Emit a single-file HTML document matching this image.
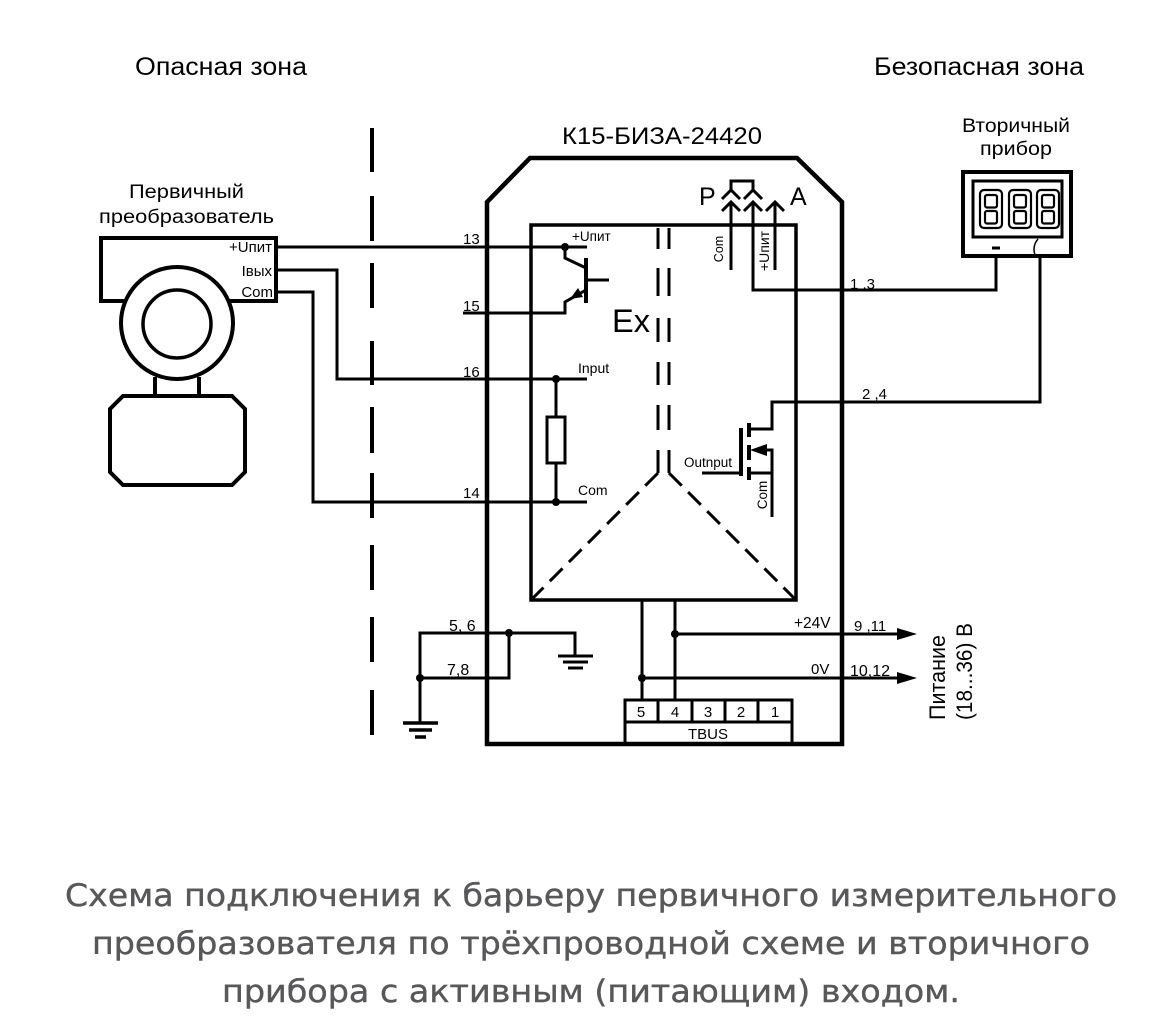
<!DOCTYPE html>
<html><head><meta charset="utf-8"><style>
html,body{margin:0;padding:0;background:#fff;}
svg{display:block;}
text{font-family:"Liberation Sans",Arial,sans-serif;fill:#000;}
text.cap{font-family:"DejaVu Sans","Liberation Sans",sans-serif;fill:#58585a;stroke:#58585a;stroke-width:0.4;}
</style></head><body>
<svg width="1156" height="1033" viewBox="0 0 1156 1033" xmlns="http://www.w3.org/2000/svg">
<rect width="1156" height="1033" fill="#fff"/>

<!-- headings -->
<text x="135" y="75" font-size="25" textLength="172" lengthAdjust="spacingAndGlyphs">Опасная зона</text>
<text x="874" y="75" font-size="25" textLength="210" lengthAdjust="spacingAndGlyphs">Безопасная зона</text>
<text x="562" y="144" font-size="24" textLength="200" lengthAdjust="spacingAndGlyphs">К15-БИЗА-24420</text>
<text x="129" y="198" font-size="19" textLength="115" lengthAdjust="spacingAndGlyphs">Первичный</text>
<text x="99" y="223" font-size="19" textLength="175" lengthAdjust="spacingAndGlyphs">преобразователь</text>
<text x="962" y="132" font-size="19" textLength="108" lengthAdjust="spacingAndGlyphs">Вторичный</text>
<text x="980" y="155" font-size="19" textLength="72" lengthAdjust="spacingAndGlyphs">прибор</text>

<g stroke="#000" fill="none" stroke-width="3" stroke-linecap="butt">
  <!-- zone boundary -->
  <path stroke-width="4" d="M372,128V172 M372,196V241 M372,263V308 M372,341V385 M372,407V453 M372,473V518 M372,545V590 M372,617V662 M372,690V735"/>

  <!-- outer housing -->
  <path d="M487,744 V202 L530,158 H797 L842,202 V744 Z" stroke-width="4.5" stroke-linejoin="miter"/>
  <!-- inner rect -->
  <rect x="531" y="225" width="265" height="375" stroke-width="3.5"/>

  <!-- barrier double dashed -->
  <path d="M658,228V249 M658,268V296 M658,318V342 M658,362V385 M658,405V430 M658,450V473
           M669,228V249 M669,268V296 M669,318V342 M669,362V385 M669,405V430 M669,450V473"/>
  <path d="M658,473 L531,600" stroke-dasharray="18 9"/>
  <path d="M669,473 L796,600" stroke-dasharray="18 9"/>

  <!-- transducer -->
  <rect x="101" y="238" width="175" height="63" stroke-width="4"/>
  <path d="M155,377V396 M199,377V396" stroke-width="4"/>
  <path d="M123,396 H232 L245,409 V472 L232,485 H123 L110,472 V409 Z" stroke-width="4" fill="#fff"/>
  <circle cx="177" cy="323" r="56" stroke-width="4" fill="#fff"/>
  <circle cx="177" cy="324" r="34" stroke-width="3.5"/>

  <!-- wires from transducer -->
  <path d="M278,247 H587"/>
  <path d="M278,270 H337 V379 H587"/>
  <path d="M278,292 H313 V502 H587"/>

  <!-- transistor -->
  <path d="M463,313 H565 V302 L586,290"/>
  <path d="M565,247 V258 L586,268"/>
  <path d="M586,258 V303" stroke-width="4"/>
  <path d="M586,280 H609"/>

  <!-- resistor -->
  <path d="M556,379 V417 M556,463 V502"/>
  <rect x="547" y="417" width="18" height="46"/>

  <!-- top connectors -->
  <path d="M731,190 V181 H753 V190"/>
  <path d="M722,199 L731,190 L740,199 M722,211 L731,202 L740,211 M731,202 V270"/>
  <path d="M744,199 L753,190 L762,199 M744,211 L753,202 L762,211 M753,202 V290 H996 V258"/>
  <path d="M766,211 L775,202 L784,211 M775,202 V270"/>

  <!-- output to device -->
  <path d="M1040,258 V402 H772 V429 H749"/>

  <!-- MOSFET -->
  <path d="M741,428 V476" stroke-width="4"/>
  <path d="M702,473 H741"/>
  <path d="M749,423V437 M749,445V460 M749,467V480" stroke-width="4"/>
  <path d="M762,450 H772 V517 M749,473 H772"/>

  <!-- bottom bus -->
  <path d="M642,600 V700 M675,600 V700"/>
  <path d="M675,634 H900 M642,678 H900"/>

  <!-- TBUS -->
  <rect x="625" y="700" width="167" height="44"/>
  <path d="M625,722 H792 M658,700V722 M692,700V722 M725,700V722 M758,700V722"/>

  <!-- grounding -->
  <path d="M575,656 V633 H420 V723"/>
  <path d="M509,633 V678 H420"/>
  <path d="M558,656 H593 M563,662 H588 M568,668 H583" stroke-width="3"/>
  <path d="M403,723 H438 M409,730 H432 M415,737 H426" stroke-width="3.5"/>

  <!-- secondary device -->
  <rect x="963" y="172" width="108" height="84" stroke-width="4"/>
  <rect x="973" y="181" width="89" height="56" stroke-width="3"/>
  <g stroke-width="2.2">
    <rect x="980" y="190" width="22" height="38" rx="4"/>
    <rect x="985" y="195" width="12" height="12.5" rx="2"/>
    <rect x="985" y="211" width="12" height="12.5" rx="2"/>
    <rect x="1009" y="190" width="22" height="38" rx="4"/>
    <rect x="1014" y="195" width="12" height="12.5" rx="2"/>
    <rect x="1014" y="211" width="12" height="12.5" rx="2"/>
    <rect x="1037" y="190" width="22" height="38" rx="4"/>
    <rect x="1042" y="195" width="12" height="12.5" rx="2"/>
    <rect x="1042" y="211" width="12" height="12.5" rx="2"/>
  </g>
  <path d="M992,248 H1000" stroke-width="3"/>
  <path d="M1038,239 Q1032,246 1035,255" stroke-width="1.5"/>
</g>

<!-- dots & arrowheads -->
<g fill="#000">
  <circle cx="565" cy="247" r="4"/>
  <circle cx="556" cy="379" r="4"/>
  <circle cx="556" cy="502" r="4"/>
  <circle cx="675" cy="634" r="4"/>
  <circle cx="642" cy="678" r="4"/>
  <circle cx="509" cy="633" r="4"/>
  <circle cx="420" cy="678" r="4"/>
  <polygon points="570,299 583,297 578,288"/>
  <polygon points="750,450 767,444 767,456"/>
  <polygon points="917,634 897,628 897,640"/>
  <polygon points="917,678 897,672 897,684"/>
</g>

<!-- labels -->
<g font-size="14">
  <text x="272" y="252" text-anchor="end" font-size="15">+Uпит</text>
  <text x="272" y="276" text-anchor="end" font-size="15">Iвых</text>
  <text x="273" y="297" text-anchor="end" font-size="15">Com</text>
  <text x="572" y="241" font-size="13.5">+Uпит</text>
  <text x="578" y="373">Input</text>
  <text x="578" y="495">Com</text>
  <text x="684" y="467" font-size="13.5">Outnput</text>
  <text transform="translate(723,249) rotate(-90)" text-anchor="middle" font-size="12.5">Com</text>
  <text transform="translate(769,251) rotate(-90)" text-anchor="middle" font-size="14">+Uпит</text>
  <text transform="translate(767,495) rotate(-90)" text-anchor="middle" font-size="13.5">Com</text>
  <text x="850" y="289" font-size="15">1 ,3</text>
  <text x="862" y="399" font-size="15">2 ,4</text>
  <text x="794" y="628" font-size="15.5">+24V</text>
  <text x="854" y="631" font-size="15">9 ,11</text>
  <text x="811" y="674" font-size="15">0V</text>
  <text x="850" y="676" font-size="16">10,12</text>
</g>
<g font-size="15">
  <text x="463" y="244">13</text>
  <text x="463" y="311">15</text>
  <text x="463" y="377">16</text>
  <text x="463" y="498">14</text>
  <text x="449" y="631" font-size="16">5, 6</text>
  <text x="447" y="675" font-size="16">7,8</text>
  <text x="641" y="717" text-anchor="middle">5</text>
  <text x="675" y="717" text-anchor="middle">4</text>
  <text x="708" y="717" text-anchor="middle">3</text>
  <text x="741" y="717" text-anchor="middle">2</text>
  <text x="775" y="717" text-anchor="middle">1</text>
  <text x="708" y="739" text-anchor="middle">TBUS</text>
</g>
<text x="612" y="332" font-size="32" textLength="38" lengthAdjust="spacingAndGlyphs">Ex</text>
<text x="699" y="205" font-size="25">P</text>
<text x="790" y="205" font-size="25">A</text>
<text transform="translate(945,720) rotate(-90)" font-size="22" textLength="85" lengthAdjust="spacingAndGlyphs">Питание</text>
<text transform="translate(972,720) rotate(-90)" font-size="22" textLength="97" lengthAdjust="spacingAndGlyphs">(18...36) В</text>

<!-- caption -->
<text class="cap" x="591" y="906" font-size="31" text-anchor="middle" textLength="1052" lengthAdjust="spacingAndGlyphs">Схема подключения к барьеру первичного измерительного</text>
<text class="cap" x="591" y="954" font-size="31" text-anchor="middle" textLength="998" lengthAdjust="spacingAndGlyphs">преобразователя по трёхпроводной схеме и вторичного</text>
<text class="cap" x="591" y="1002" font-size="31" text-anchor="middle" textLength="738" lengthAdjust="spacingAndGlyphs">прибора с активным (питающим) входом.</text>
</svg>
</body></html>
